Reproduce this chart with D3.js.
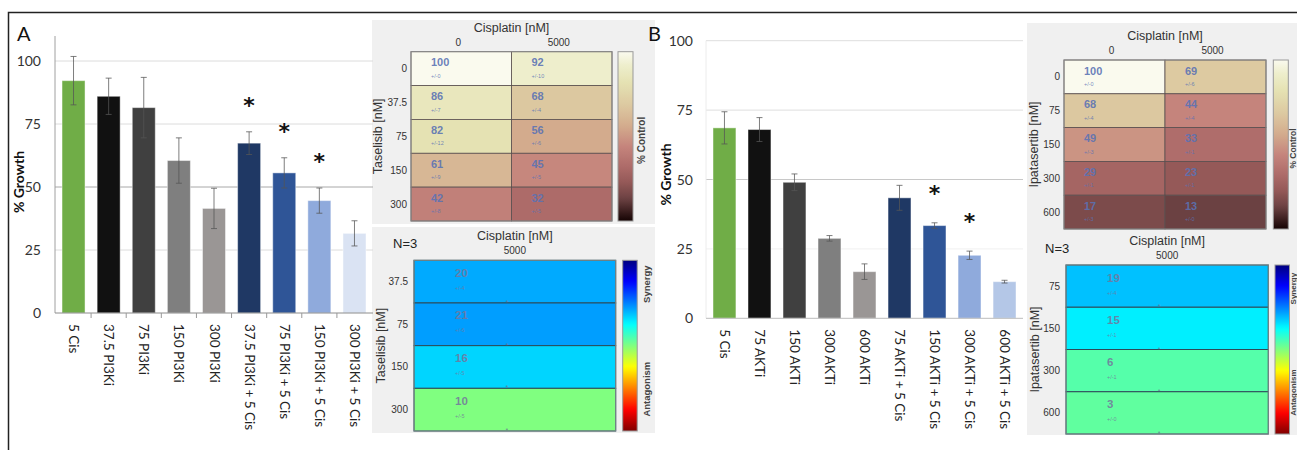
<!DOCTYPE html>
<html>
<head>
<meta charset="utf-8">
<script src="https://cdn.jsdelivr.net/npm/d3@7"></script>
<style>
  html, body { margin: 0; padding: 0; background: #fff; }
  svg { display: block; }
</style>
</head>
<body>
<svg id="chart" width="1297" height="450"></svg>
<script>
// ---------------- DATA ----------------
const yTicks = [0, 25, 50, 75, 100];

const labelsA = ["5 Cis", "37.5 PI3Ki", "75 PI3Ki", "150 PI3Ki", "300 PI3Ki",
  "37.5 PI3Ki + 5 Cis", "75 PI3Ki + 5 Cis", "150 PI3Ki + 5 Cis", "300 PI3Ki + 5 Cis"];
const valuesA = [92.2, 86, 81.5, 60.5, 41.5, 67.4, 55.6, 44.6, 31.6];
const errorsA = [9.6, 7.2, 12, 9, 8, 4.5, 6, 5, 5];
const starsA  = [false, false, false, false, false, true, true, true, false];

const labelsB = ["5 Cis", "75 AKTi", "150 AKTi", "300 AKTi", "600 AKTi",
  "75 AKTi + 5 Cis", "150 AKTi + 5 Cis", "300 AKTi + 5 Cis", "600 AKTi + 5 Cis"];
const valuesB = [68.6, 68, 49, 28.8, 16.8, 43.4, 33.4, 22.7, 13.2];
const errorsB = [5.8, 4.3, 3, 1, 2.8, 4.5, 1, 1.5, 0.5];
const starsB  = [false, false, false, false, false, false, true, true, false];

const cisLabels = ["0", "5000"];
const cisSynLabels = ["5000"];

const tasLabels = ["0", "37.5", "75", "150", "300"];
const ctrlA   = [[100, 92], [86, 68], [82, 56], [61, 45], [42, 32]];
const ctrlSdA = [[0, 10], [7, 4], [12, 6], [9, 5], [8, 5]];

const ipaLabels = ["0", "75", "150", "300", "600"];
const ctrlB   = [[100, 69], [68, 44], [49, 33], [29, 23], [17, 13]];
const ctrlSdB = [[0, 6], [4, 4], [3, 1], [1, 1], [3, 0]];

const synLabelsA = ["37.5", "75", "150", "300"];
const synA   = [20, 21, 16, 10];
const synSdA = [4, 6, 5, 5];

const synLabelsB = ["75", "150", "300", "600"];
const synB   = [19, 15, 6, 3];
const synSdB = [4, 1, 1, 0];

// ---------------- STYLE ----------------
const barColorsA = ["#70AD47", "#111111", "#404040", "#7F7F7F", "#9A9695",
  "#1F3864", "#2F5597", "#8FAADC", "#DAE3F3"];
const barColorsB = ["#70AD47", "#111111", "#404040", "#7F7F7F", "#9A9695",
  "#1F3864", "#2F5597", "#8FAADC", "#B4C7E7"];

const barFont = "Lato, 'Open Sans', sans-serif";
const hmFont = "'Liberation Sans', Arial, sans-serif";

const ctrlColor = d3.scaleLinear()
  .domain([0, 13, 23, 32, 44, 56, 68, 82, 92, 100])
  .range(["#150303", "#6b4142", "#955958", "#ad6b69", "#c5847c", "#d3ab8d",
          "#dcc8a0", "#e5e2b3", "#eeeecc", "#fafaee"])
  .interpolate(d3.interpolateRgb);

function jet(t) {
  const c = v => Math.max(0, Math.min(1, v));
  const r = c(1.5 - Math.abs(4 * t - 3));
  const g = c(1.5 - Math.abs(4 * t - 2));
  const b = c(1.5 - Math.abs(4 * t - 1));
  return d3.rgb(r * 255, g * 255, b * 255).toString();
}
const synPosA = d3.scaleLinear().domain([10, 16, 20, 21]).range([0.5, 0.334, 0.292, 0.28]);
const synPosB = d3.scaleLinear().domain([3, 6, 15, 19]).range([0.469, 0.458, 0.359, 0.314]);

const svg = d3.select("#chart");
const defs = svg.append("defs");

// gradients (offsets ascending from top)
const gCtrl = defs.append("linearGradient").attr("id", "gradCtrl")
  .attr("x1", 0).attr("y1", 0).attr("x2", 0).attr("y2", 1);
d3.range(0, 1.0001, 0.02).forEach(t => {
  gCtrl.append("stop").attr("offset", t).attr("stop-color", ctrlColor(100 * (1 - t)));
});
const gJet = defs.append("linearGradient").attr("id", "gradJet")
  .attr("x1", 0).attr("y1", 0).attr("x2", 0).attr("y2", 1);
d3.range(0, 1.0001, 0.02).forEach(t => {
  gJet.append("stop").attr("offset", t).attr("stop-color", jet(t));
});

// ---------------- BAR CHARTS ----------------
function drawBars(cfg) {
  const g = svg.append("g");
  const y = d3.scaleLinear().domain([0, 100]).range([cfg.y0, cfg.y100]);
  const x = d3.scaleBand().domain(cfg.labels).range([cfg.x0, cfg.x1])
    .paddingInner(0.345).paddingOuter(0.2);
  const step = x.step();

  g.selectAll("line.grid").data(yTicks.filter(d => d > 0)).join("line")
    .attr("x1", cfg.x0).attr("x2", cfg.x1)
    .attr("y1", d => y(d)).attr("y2", d => y(d))
    .attr("stroke", d => d === 50 ? cfg.grid50 : cfg.gridColor(d))
    .attr("stroke-width", 1);

  if (cfg.yAxisLine) {
    g.append("line").attr("x1", cfg.x0).attr("x2", cfg.x0)
      .attr("y1", cfg.yAxisTop).attr("y2", y(0))
      .attr("stroke", cfg.yAxisLine).attr("stroke-width", 1);
  }

  g.selectAll("text.ytick").data(yTicks).join("text")
    .attr("x", cfg.tickX).attr("y", d => y(d) + 5)
    .attr("text-anchor", "end")
    .attr("font-family", barFont).attr("font-size", 14)
    .attr("fill", "#333")
    .text(d => d);

  const data = cfg.labels.map((l, i) => ({ l, v: cfg.values[i], e: cfg.errors[i], s: cfg.stars[i], c: cfg.colors[i] }));
  g.selectAll("rect.bar").data(data).join("rect")
    .attr("x", d => x(d.l)).attr("width", x.bandwidth())
    .attr("y", d => y(d.v)).attr("height", d => y(0) - y(d.v))
    .attr("fill", d => d.c)
    .attr("stroke", "#ffffff").attr("stroke-opacity", 0.45).attr("stroke-width", 1);

  const eb = g.selectAll("g.err").data(data).join("g")
    .attr("stroke", "#555").attr("stroke-width", 0.9).attr("stroke-opacity", 0.85);
  const cx = d => x(d.l) + x.bandwidth() / 2;
  eb.append("line")
    .attr("x1", cx).attr("x2", cx)
    .attr("y1", d => y(d.v + d.e)).attr("y2", d => y(d.v - d.e));
  eb.append("line")
    .attr("x1", d => cx(d) - 3).attr("x2", d => cx(d) + 3)
    .attr("y1", d => y(d.v + d.e)).attr("y2", d => y(d.v + d.e));
  eb.append("line")
    .attr("x1", d => cx(d) - 3).attr("x2", d => cx(d) + 3)
    .attr("y1", d => y(d.v - d.e)).attr("y2", d => y(d.v - d.e));

  g.selectAll("text.star").data(data.filter(d => d.s)).join("text")
    .attr("x", cx)
    .attr("y", d => y(d.v + d.e + 13) + 14)
    .attr("text-anchor", "middle")
    .attr("font-family", "'DejaVu Sans', sans-serif").attr("font-weight", "bold").attr("font-size", 22)
    .attr("fill", "#111").text("*");

  g.append("line").attr("x1", cfg.x0).attr("x2", cfg.x1)
    .attr("y1", y(0)).attr("y2", y(0))
    .attr("stroke", cfg.baseColor).attr("stroke-width", 1);
  if (cfg.xTicks) {
    g.selectAll("line.xtick").data(cfg.labels.slice(1)).join("line")
      .attr("x1", d => x(d) - step * x.paddingInner() / 2)
      .attr("x2", d => x(d) - step * x.paddingInner() / 2)
      .attr("y1", y(0)).attr("y2", y(0) + 5)
      .attr("stroke", "#999").attr("stroke-width", 1);
  }

  g.selectAll("text.xlab").data(cfg.labels).join("text")
    .attr("transform", d => `translate(${x(d) + x.bandwidth() / 2 - 4.5},${y(0) + cfg.labelGap}) rotate(90)`)
    .attr("text-anchor", "start")
    .attr("font-family", barFont).attr("font-size", 13.5)
    .attr("fill", "#222")
    .text(d => d);

  g.append("text")
    .attr("transform", `translate(${cfg.titleX},${(y(0) + y(100)) / 2 - 5}) rotate(-90)`)
    .attr("text-anchor", "middle")
    .attr("font-family", barFont).attr("font-weight", "bold").attr("font-size", 14)
    .attr("fill", "#111").text("% Growth");

  g.append("text").attr("x", cfg.letterX).attr("y", cfg.letterY)
    .attr("font-family", barFont).attr("font-size", 20).attr("fill", "#111")
    .text(cfg.letter);
}

// ---------------- HEATMAPS ----------------
function drawCtrlHeat(cfg) {
  const g = svg.append("g");
  const x = d3.scaleBand().domain(cisLabels).range([cfg.x0, cfg.x1]);
  const y = d3.scaleBand().domain(cfg.rows).range([cfg.y0, cfg.y1]);
  const cells = [];
  cfg.rows.forEach((r, i) => cisLabels.forEach((c, j) => cells.push({ r, c, v: cfg.vals[i][j], s: cfg.sds[i][j] })));

  g.selectAll("rect.cell").data(cells).join("rect")
    .attr("x", d => x(d.c)).attr("y", d => y(d.r))
    .attr("width", x.bandwidth()).attr("height", y.bandwidth())
    .attr("fill", d => ctrlColor(d.v))
    .attr("stroke", "#5a5050").attr("stroke-width", 0.8);
  g.append("rect").attr("x", cfg.x0).attr("y", cfg.y0)
    .attr("width", cfg.x1 - cfg.x0).attr("height", cfg.y1 - cfg.y0)
    .attr("fill", "none").attr("stroke", "#8a8a8a").attr("stroke-width", 1);

  g.selectAll("text.val").data(cells).join("text")
    .attr("x", d => x(d.c) + 20).attr("y", d => y(d.r) + 14.5)
    .attr("font-family", hmFont).attr("font-weight", "bold").attr("font-size", 11)
    .attr("fill", "#5a72b4").attr("fill-opacity", 0.9)
    .text(d => d.v);
  g.selectAll("text.sd").data(cells).join("text")
    .attr("x", d => x(d.c) + 20).attr("y", d => y(d.r) + 26)
    .attr("font-family", hmFont).attr("font-size", 5.5)
    .attr("fill", "#5a72b4").attr("fill-opacity", 0.85)
    .text(d => "+/-" + d.s);

  g.append("text").attr("x", (cfg.x0 + cfg.x1) / 2).attr("y", cfg.y0 - 20)
    .attr("text-anchor", "middle").attr("font-family", hmFont).attr("font-size", 12.5)
    .attr("fill", "#333").text("Cisplatin [nM]");
  g.selectAll("text.col").data(cisLabels).join("text")
    .attr("x", d => x(d) + x.bandwidth() / 2 - 3).attr("y", cfg.y0 - 6)
    .attr("text-anchor", "middle").attr("font-family", hmFont).attr("font-size", 10)
    .attr("fill", "#333").text(d => d);
  g.selectAll("text.row").data(cfg.rows).join("text")
    .attr("x", cfg.x0 - 4).attr("y", d => y(d) + y.bandwidth() / 2 + 3.5)
    .attr("text-anchor", "end").attr("font-family", hmFont).attr("font-size", 10)
    .attr("fill", "#333").text(d => d);
  g.append("text")
    .attr("transform", `translate(${cfg.ytitleX},${(cfg.y0 + cfg.y1) / 2}) rotate(-90)`)
    .attr("text-anchor", "middle").attr("font-family", hmFont).attr("font-size", 12.5)
    .attr("fill", "#333").text(cfg.ytitle);

  g.append("rect").attr("x", cfg.cbX).attr("y", cfg.y0)
    .attr("width", 15).attr("height", cfg.y1 - cfg.y0)
    .attr("fill", "url(#gradCtrl)").attr("stroke", "#999").attr("stroke-width", 1);
  g.append("text")
    .attr("transform", `translate(${cfg.lblX},${(cfg.y0 + cfg.y1) / 2 + 4}) rotate(-90)`)
    .attr("text-anchor", "middle").attr("font-family", hmFont).attr("font-weight", "bold")
    .attr("font-size", cfg.lblSize).attr("fill", "#444").text("% Control");
}

function drawSynHeat(cfg) {
  const g = svg.append("g");
  const y = d3.scaleBand().domain(cfg.rows).range([cfg.y0, cfg.y1]);
  const w = cfg.x1 - cfg.x0;
  const cells = cfg.rows.map((r, i) => ({ r, v: cfg.vals[i], s: cfg.sds[i] }));

  g.selectAll("rect.cell").data(cells).join("rect")
    .attr("x", cfg.x0).attr("y", d => y(d.r))
    .attr("width", w).attr("height", y.bandwidth())
    .attr("fill", d => jet(cfg.pos(d.v)))
    .attr("stroke", "#2c4a5a").attr("stroke-width", 1);
  g.append("rect").attr("x", cfg.x0).attr("y", cfg.y0)
    .attr("width", w).attr("height", cfg.y1 - cfg.y0)
    .attr("fill", "none").attr("stroke", "#7a8a8a").attr("stroke-width", 1);

  g.selectAll("text.val").data(cells).join("text")
    .attr("x", cfg.x0 + 41).attr("y", d => y(d.r) + 16.5)
    .attr("font-family", hmFont).attr("font-weight", "bold").attr("font-size", 11.5)
    .attr("fill", "#74769c").attr("fill-opacity", 0.85)
    .text(d => d.v);
  g.selectAll("text.sd").data(cells).join("text")
    .attr("x", cfg.x0 + 41).attr("y", d => y(d.r) + 29.5)
    .attr("font-family", hmFont).attr("font-size", 5.5)
    .attr("fill", "#74769c").attr("fill-opacity", 0.8)
    .text(d => "+/-" + d.s);
  g.selectAll("text.mk").data(cells).join("text")
    .attr("x", cfg.x0 + w * 0.46).attr("y", d => y(d.r) + y.bandwidth() + 2)
    .attr("text-anchor", "middle")
    .attr("font-family", hmFont).attr("font-size", 7)
    .attr("fill", "#6a6f90").attr("fill-opacity", 0.8)
    .text("*");

  g.append("text").attr("x", (cfg.x0 + cfg.x1) / 2).attr("y", cfg.y0 - 20)
    .attr("text-anchor", "middle").attr("font-family", hmFont).attr("font-size", 12.5)
    .attr("fill", "#333").text("Cisplatin [nM]");
  g.append("text").attr("x", (cfg.x0 + cfg.x1) / 2).attr("y", cfg.y0 - 6.5)
    .attr("text-anchor", "middle").attr("font-family", hmFont).attr("font-size", 10)
    .attr("fill", "#333").text(cisSynLabels[0]);
  g.append("text").attr("x", cfg.nX).attr("y", cfg.y0 - 12)
    .attr("font-family", hmFont).attr("font-size", 13)
    .attr("fill", "#222").text("N=3");
  g.selectAll("text.row").data(cfg.rows).join("text")
    .attr("x", cfg.x0 - 6).attr("y", d => y(d) + y.bandwidth() / 2 + 3.5)
    .attr("text-anchor", "end").attr("font-family", hmFont).attr("font-size", 10)
    .attr("fill", "#333").text(d => d);
  g.append("text")
    .attr("transform", `translate(${cfg.ytitleX},${(cfg.y0 + cfg.y1) / 2}) rotate(-90)`)
    .attr("text-anchor", "middle").attr("font-family", hmFont).attr("font-size", 12.5)
    .attr("fill", "#333").text(cfg.ytitle);

  g.append("rect").attr("x", cfg.cbX).attr("y", cfg.y0)
    .attr("width", 14.5).attr("height", cfg.y1 - cfg.y0)
    .attr("fill", "url(#gradJet)").attr("stroke", "#999").attr("stroke-width", 1);
  const h = cfg.y1 - cfg.y0;
  g.append("text")
    .attr("transform", `translate(${cfg.lblX},${cfg.y0 + h * 0.14}) rotate(-90)`)
    .attr("text-anchor", "middle").attr("font-family", hmFont).attr("font-weight", "bold")
    .attr("font-size", cfg.lblSize).attr("fill", "#444").text("Synergy");
  g.append("text")
    .attr("transform", `translate(${cfg.lblX},${cfg.y0 + h * 0.755}) rotate(-90)`)
    .attr("text-anchor", "middle").attr("font-family", hmFont).attr("font-weight", "bold")
    .attr("font-size", cfg.lblSize).attr("fill", "#444").text("Antagonism");
}

// ---------------- LAYOUT ----------------
svg.append("rect").attr("x", 372).attr("y", 20).attr("width", 283).attr("height", 204).attr("fill", "#f0f0f0");
svg.append("rect").attr("x", 372).attr("y", 227).attr("width", 283).attr("height", 206).attr("fill", "#f0f0f0");
svg.append("rect").attr("x", 1027).attr("y", 23).attr("width", 272).attr("height", 412).attr("fill", "#f0f0f0");

drawBars({
  labels: labelsA, values: valuesA, errors: errorsA, stars: starsA, colors: barColorsA,
  x0: 55, x1: 373, y0: 313, y100: 61, tickX: 41, titleX: 24,
  grid50: "#a8a8a8", gridColor: () => "#dcdcdc", baseColor: "#8c8c8c",
  yAxisLine: "#a0a0a0", yAxisTop: 36, xTicks: true, labelGap: 11,
  letter: "A", letterX: 17, letterY: 41
});

drawBars({
  labels: labelsB, values: valuesB, errors: errorsB, stars: starsB, colors: barColorsB,
  x0: 706, x1: 1023, y0: 318.3, y100: 40.7, tickX: 693, titleX: 671,
  grid50: "#c8c8c8", gridColor: d => d === 25 ? "#f0f0f0" : "#dedede", baseColor: "#bcbcbc",
  yAxisLine: "#ececec", yAxisTop: 40.7, xTicks: false, labelGap: 11,
  letter: "B", letterX: 648, letterY: 41
});

drawCtrlHeat({ rows: tasLabels, vals: ctrlA, sds: ctrlSdA,
  x0: 411, x1: 612, y0: 51.7, y1: 221, cbX: 618, lblX: 645, lblSize: 10,
  ytitleX: 382, ytitle: "Taselisib [nM]" });
drawSynHeat({ rows: synLabelsA, vals: synA, sds: synSdA, pos: synPosA,
  x0: 414, x1: 615.7, y0: 260.3, y1: 431, cbX: 622.7, lblX: 650, lblSize: 9.5,
  ytitleX: 385, nX: 393, ytitle: "Taselisib [nM]" });

drawCtrlHeat({ rows: ipaLabels, vals: ctrlB, sds: ctrlSdB,
  x0: 1064, x1: 1266, y0: 60, y1: 229, cbX: 1273.3, lblX: 1296, lblSize: 8.5,
  ytitleX: 1038, ytitle: "Ipatasertib [nM]" });
drawSynHeat({ rows: synLabelsB, vals: synB, sds: synSdB, pos: synPosB,
  x0: 1066, x1: 1268.3, y0: 265, y1: 434, cbX: 1275, lblX: 1296, lblSize: 8,
  ytitleX: 1039, nX: 1045, ytitle: "Ipatasertib [nM]" });

svg.append("path").attr("d", "M8.5,450 V12.5 H1297")
  .attr("fill", "none").attr("stroke", "#222").attr("stroke-width", 1.5);
</script>
</body>
</html>
